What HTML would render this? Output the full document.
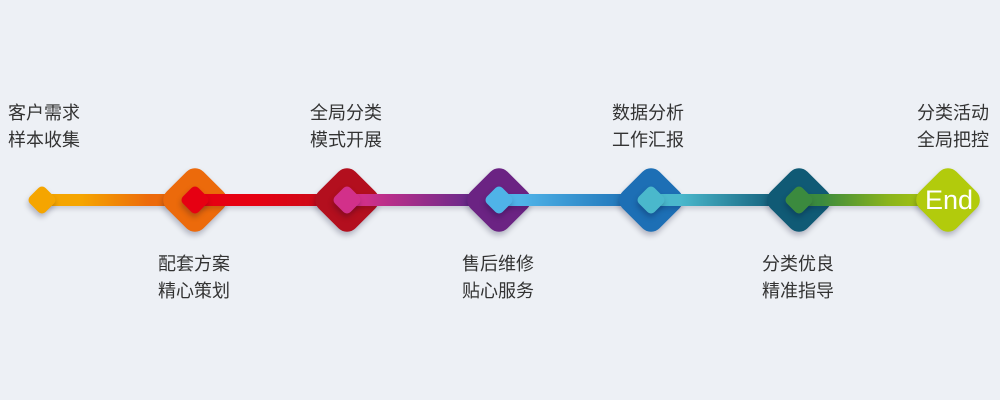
<!DOCTYPE html>
<html><head><meta charset="utf-8"><style>
body{margin:0;width:1000px;height:400px;background:#edf0f5;position:relative;overflow:hidden;font-family:"Liberation Sans","Noto Sans CJK SC",sans-serif}
.t{position:absolute;font-size:18px;line-height:27px;color:#333;white-space:nowrap}
.bar{position:absolute;top:194px;height:12px;box-shadow:0 3px 5px rgba(0,0,40,.15)}
.d{position:absolute;transform:rotate(45deg);box-shadow:2px 3px 6px rgba(0,0,40,.25)}
.big{width:52px;height:52px;top:174px;border-radius:12px}
.sm{width:22px;height:22px;top:189px;border-radius:5px}
</style></head><body>
<div class="t" style="left:8px;top:100px">客户需求<br>样本收集</div>
<div class="t" style="left:310px;top:100px">全局分类<br>模式开展</div>
<div class="t" style="left:612px;top:100px">数据分析<br>工作汇报</div>
<div class="t" style="left:917px;top:100px">分类活动<br>全局把控</div>
<div class="t" style="left:158px;top:251px">配套方案<br>精心策划</div>
<div class="t" style="left:462px;top:251px">售后维修<br>贴心服务</div>
<div class="t" style="left:762px;top:251px">分类优良<br>精准指导</div>

<div class="bar" style="left:43px;width:152px;background:linear-gradient(90deg,#f5a500 25%,#ec6a0b 70%)"></div>
<div class="d sm" style="left:31px;background:#f5a500"></div>
<div class="d big" style="left:169px;background:#ec6a0b"></div>

<div class="bar" style="left:195px;width:152px;background:linear-gradient(90deg,#e60012 40%,#c0101c)"></div>
<div class="d sm" style="left:184px;background:#e60012"></div>
<div class="d big" style="left:321px;background:#b30f1e"></div>

<div class="bar" style="left:347px;width:152px;background:linear-gradient(90deg,#d2308a 10%,#6a2a8a 80%)"></div>
<div class="d sm" style="left:336px;background:#d2308a"></div>
<div class="d big" style="left:473px;background:#6b2383"></div>

<div class="bar" style="left:499px;width:152px;background:linear-gradient(90deg,#4fb3e8 15%,#1f74b8 85%)"></div>
<div class="d sm" style="left:488px;background:#4fb3e8"></div>
<div class="d big" style="left:625px;background:#1d6fb5"></div>

<div class="bar" style="left:651px;width:148px;background:linear-gradient(90deg,#4ab8cc 20%,#135e7a 85%)"></div>
<div class="d sm" style="left:640px;background:#4ab8cc"></div>
<div class="d big" style="left:773px;background:#105a75"></div>

<div class="bar" style="left:799px;width:149px;background:linear-gradient(90deg,#3b8a3e 15%,#8ab41c 60%,#b5cc0a)"></div>
<div class="d sm" style="left:788px;background:#3b8a3e"></div>
<div class="d big" style="left:922px;background:#b2cb0c"></div>
<div style="position:absolute;left:918px;top:184px;width:62px;text-align:center;color:#fff;font-size:27px;line-height:32px;font-family:'Liberation Sans',sans-serif">End</div>
</body></html>
